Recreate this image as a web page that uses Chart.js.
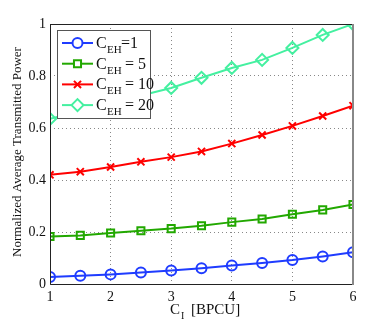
<!DOCTYPE html>
<html>
<head>
<meta charset="utf-8">
<script src="https://cdn.jsdelivr.net/npm/chart.js@4"></script>
<style>
  html, body { margin: 0; padding: 0; background: #fff; }
  #wrap { width: 390px; height: 322px; }
</style>
</head>
<body>
<div id="wrap"><canvas id="powerChart" width="390" height="322"></canvas></div>
<script>
// values
const rateCI = [1, 1.5, 2, 2.5, 3, 3.5, 4, 4.5, 5, 5.5, 6];
const powerEH1 = [0.027, 0.032, 0.037, 0.044, 0.052, 0.061, 0.071, 0.081, 0.092, 0.106, 0.122];
const powerEH5 = [0.183, 0.187, 0.196, 0.205, 0.213, 0.224, 0.238, 0.250, 0.268, 0.285, 0.306];
const powerEH10 = [0.420, 0.432, 0.450, 0.470, 0.488, 0.510, 0.540, 0.573, 0.608, 0.646, 0.686];
const powerEH20 = [0.635, 0.665, 0.695, 0.725, 0.754, 0.793, 0.831, 0.862, 0.908, 0.958, 1.0];
const seriesNames = ['=1', ' = 5', ' = 10', ' = 20'];
const xTicks = [1, 2, 3, 4, 5, 6];
const yTicks = [0, 0.2, 0.4, 0.6, 0.8, 1];

const serif = '"Liberation Serif", "DejaVu Serif", serif';

function makeSet(name, values, color, style, radius) {
    return {
        label: name,
        data: rateCI.map((x, i) => ({ x: x, y: values[i] })),
        borderColor: color,
        backgroundColor: 'rgba(0,0,0,0)',
        pointBorderColor: color,
        pointBackgroundColor: 'rgba(0,0,0,0)',
        pointStyle: style,
        pointRadius: radius,
        pointBorderWidth: 2,
        borderWidth: 2,
        tension: 0
    };
}

// frame, axis labels and legend with subscripts
const decorations = {
    id: 'decorations',
    afterDatasetsDraw(chart) {
        const ctx = chart.ctx;
        const a = chart.chartArea;
        ctx.save();
        ctx.lineWidth = 1;
        ctx.strokeStyle = '#222';
        ctx.beginPath();
        ctx.moveTo(a.left + 0.5, a.top + 0.5);
        ctx.lineTo(a.right, a.top + 0.5);
        ctx.moveTo(a.left + 0.5, a.top);
        ctx.lineTo(a.left + 0.5, a.bottom + 0.5);
        ctx.lineTo(a.right, a.bottom + 0.5);
        ctx.stroke();
        ctx.strokeStyle = '#888';
        ctx.lineWidth = 2;
        ctx.beginPath();
        ctx.moveTo(a.right, a.top);
        ctx.lineTo(a.right, a.bottom + 1);
        ctx.stroke();

        // x label
        ctx.fillStyle = '#111';
        ctx.textBaseline = 'alphabetic';
        ctx.textAlign = 'left';
        ctx.font = '15px ' + serif;
        ctx.fillText('C', 170, 314);
        ctx.font = '10px ' + serif;
        ctx.fillText('I', 181, 319);
        ctx.font = '15px ' + serif;
        ctx.fillText('[BPCU]', 191, 314);

        // y label
        ctx.save();
        ctx.translate(21, 152);
        ctx.rotate(-Math.PI / 2);
        ctx.textAlign = 'center';
        ctx.font = '13px ' + serif;
        ctx.fillText('Normalized Average Transmitted Power', 0, 0);
        ctx.restore();

        // legend
        const lx = 57, ly = 30, lw = 93, lh = 88;
        ctx.fillStyle = '#fff';
        ctx.fillRect(lx, ly, lw, lh);
        ctx.strokeStyle = '#555';
        ctx.lineWidth = 1;
        ctx.strokeRect(lx + 0.5, ly + 0.5, lw, lh);
        chart.data.datasets.forEach((ds, i) => {
            const cy = 43 + i * 20.7;
            ctx.strokeStyle = ds.borderColor;
            ctx.lineWidth = 2;
            ctx.beginPath();
            ctx.moveTo(62, cy);
            ctx.lineTo(93, cy);
            ctx.stroke();
            ctx.fillStyle = '#fff';
            Chart.helpers.drawPoint(ctx, {
                pointStyle: ds.pointStyle,
                radius: ds.pointRadius,
                borderWidth: 2
            }, 77.5, cy);
            ctx.fillStyle = '#111';
            ctx.font = '16px ' + serif;
            ctx.fillText('C', 96, cy + 5);
            ctx.font = '11px ' + serif;
            ctx.fillText('EH', 107, cy + 10);
            ctx.font = '16px ' + serif;
            ctx.fillText(ds.label, 121, cy + 5);
        });
        ctx.restore();
    }
};

new Chart(document.getElementById('powerChart').getContext('2d'), {
    type: 'line',
    data: {
        datasets: [
            makeSet(seriesNames[0], powerEH1, '#1f3cff', 'circle', 5),
            makeSet(seriesNames[1], powerEH5, '#22a800', 'rect', 5),
            makeSet(seriesNames[2], powerEH10, '#ff0000', 'crossRot', 5),
            makeSet(seriesNames[3], powerEH20, '#44f0a0', 'rectRot', 6)
        ]
    },
    options: {
        responsive: false,
        animation: false,
        layout: { padding: { left: 0, right: 37, top: 24, bottom: 0 } },
        plugins: {
            legend: { display: false },
            tooltip: { enabled: false }
        },
        scales: {
            x: {
                type: 'linear',
                min: 1,
                max: 6,
                afterFit: s => { s.height = 38; },
                afterBuildTicks: s => { s.ticks = xTicks.map(v => ({ value: v })); },
                border: { display: false, dash: [1, 3] },
                grid: { color: '#888', drawTicks: false, lineWidth: 1 },
                ticks: { color: '#111', padding: 5, font: { family: serif, size: 14 },
                         callback: v => String(v) }
            },
            y: {
                min: 0,
                max: 1,
                afterFit: s => { s.width = 50; },
                afterBuildTicks: s => { s.ticks = yTicks.map(v => ({ value: v })); },
                border: { display: false, dash: [1, 3] },
                grid: { color: '#888', drawTicks: false, lineWidth: 1 },
                ticks: { color: '#111', padding: 4, font: { family: serif, size: 14 },
                         callback: v => String(Math.round(v * 10) / 10) }
            }
        }
    },
    plugins: [decorations]
});
</script>
</body>
</html>
